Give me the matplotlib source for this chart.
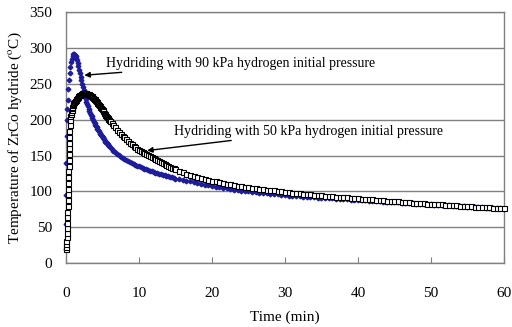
"""ZrCo hydride temperature during hydriding at two initial pressures."""

import matplotlib
matplotlib.use("Agg")
import matplotlib.pyplot as plt
import numpy as np

plt.rcParams["font.family"] = ["Liberation Serif", "DejaVu Serif"]
plt.rcParams["mathtext.fontset"] = "stix"

# --- 90 kPa run (readings) ---
t90_rise = [0.0, 0.02, 0.04, 0.06, 0.08, 0.1, 0.15, 0.2, 0.3, 0.4,
            0.5, 0.6, 0.7, 0.8, 0.9]
T90_rise = [20, 55, 95, 140, 178, 200, 215, 228, 243, 255,
            265, 273, 280, 285, 289]
# every 0.1 min from 1.0 to 6.0
T90_fast = [
    291, 291, 290, 288.5, 286, 283, 279.5, 275, 270, 265,
    260, 255, 250, 245.5, 241, 236.5, 232.5, 228.5, 225, 221.5,
    218.5, 215.5, 212.5, 210, 207, 204.5, 202, 199.5, 197.5, 195.5,
    193, 191, 189.5, 187.5, 186, 184, 182, 180.5, 179, 177,
    175.5, 174, 172.5, 171, 169.5, 168.3, 167, 165.8, 164.6, 163.4,
    162.2,
]
# every 0.25 min from 6.25 to 15
T90_mid = [
    159.5, 157, 154.7, 152.5, 150.4, 148.5, 146.7, 145, 143.5, 142,
    140.7, 139.5, 138.2, 137, 136, 135, 134, 133, 132, 131,
    130, 129, 128, 127, 126.2, 125.5, 124.7, 124, 123.2, 122.5,
    121.7, 121, 120.2, 119.5, 118.7, 118,
]
# every 0.5 min from 15.5 to 60
T90_tail = [
    117, 116, 115, 114, 113, 111.5, 110.5, 109.5, 108.5, 107.5,
    106.8, 106, 105.2, 104.5, 103.5, 102.5, 101.8, 101, 100.5, 100,
    99.4, 98.8, 98.3, 97.8, 97.3, 96.8, 96.3, 95.8, 95.3, 94.9,
    94.4, 94, 93.6, 93.2, 92.8, 92.4, 92.1, 91.8, 91.5, 91.2,
    90.9, 90.6, 90.3, 90.0, 89.7, 89.4, 89.1, 88.8, 88.5, 88.2,
    87.9, 87.6, 87.3, 87.0, 86.6, 86.3, 86.0, 85.7, 85.3, 85.0,
    84.7, 84.4, 84.1, 83.8, 83.5, 83.2, 82.9, 82.6, 82.3, 82.0,
    81.7, 81.4, 81.1, 80.8, 80.5, 80.2, 79.9, 79.6, 79.3, 79.0,
    78.7, 78.4, 78.1, 77.8, 77.5, 77.2, 76.9, 76.6, 76.3, 76.0,
]

# --- 50 kPa run ---
t50_rise = [0.0, 0.02, 0.04, 0.06, 0.08, 0.1, 0.12, 0.14, 0.16, 0.18,
            0.2, 0.22, 0.24, 0.26, 0.28, 0.3, 0.32, 0.34, 0.36, 0.38,
            0.4, 0.42, 0.44, 0.46, 0.5, 0.55, 0.6, 0.65, 0.7, 0.75,
            0.8, 0.85, 0.9, 0.95, 1.0]
T50_rise = [20, 23, 27, 31, 36, 42, 49, 56, 64, 72,
            80, 88, 96, 104, 112, 120, 128, 136, 144, 152,
            160, 168, 176, 184, 192, 199, 205, 208, 211, 213.5,
            216, 218, 220, 221.5, 223]
# every 0.1 min from 1.1 to 6.0
T50_fast = [
    224.5, 226, 227.5, 229, 230.5, 232, 233, 234, 235, 236,
    236.5, 237, 237.3, 237.5, 237.5, 237.4, 237.2, 236.8, 236.4, 236,
    235.5, 235, 234.3, 233.5, 232.6, 231.6, 230.5, 229.4, 228.2, 227,
    225.7, 224.4, 223, 221.6, 220.2, 218.8, 217.4, 216, 214.5, 213,
    211.5, 210, 208.5, 207, 205.5, 204, 202.6, 201.2, 199.8, 198.5,
]
# every 0.25 min from 6.25 to 15
T50_mid = [
    195.3, 192.2, 189.2, 186.3, 183.4, 180.6, 177.9, 175.3, 172.8, 170.4,
    168.1, 165.9, 163.8, 161.8, 159.9, 158, 156.4, 154.8, 153.3, 151.8,
    150.3, 148.8, 147.4, 146, 144.6, 143.2, 141.8, 140.5, 139.2, 138,
    136.9, 135.8, 134.6, 133.4, 132.2, 131,
]
# every 0.5 min from 15.5 to 60
T50_tail = [
    129, 127, 125, 123.5, 122, 120.5, 119, 117.5, 116, 115,
    114, 113, 112, 111, 110, 109, 108.3, 107.5, 106.8, 106,
    105.3, 104.6, 104, 103.3, 102.7, 102, 101.4, 100.8, 100.2, 99.6,
    99, 98.4, 97.8, 97.3, 96.8, 96.3, 95.9, 95.4, 95.0, 94.6,
    94.1, 93.7, 93.3, 92.9, 92.5, 92.1, 91.7, 91.3, 90.9, 90.5,
    90.1, 89.7, 89.3, 88.9, 88.5, 88.1, 87.7, 87.3, 86.9, 86.5,
    86.1, 85.7, 85.4, 85.0, 84.6, 84.3, 83.9, 83.6, 83.2, 82.9,
    82.5, 82.2, 81.9, 81.5, 81.2, 80.9, 80.6, 80.2, 79.9, 79.6,
    79.3, 79.0, 78.7, 78.4, 78.1, 77.8, 77.5, 77.2, 76.9, 76.6,
]


def _times(start, step, vals):
    return start + step * np.arange(len(vals))


t90 = np.concatenate([t90_rise, _times(1.0, 0.1, T90_fast),
                      _times(6.25, 0.25, T90_mid), _times(15.5, 0.5, T90_tail)])
T90 = np.concatenate([T90_rise, T90_fast, T90_mid, T90_tail])
t50 = np.concatenate([t50_rise, _times(1.1, 0.1, T50_fast),
                      _times(6.25, 0.25, T50_mid), _times(15.5, 0.5, T50_tail)])
T50 = np.concatenate([T50_rise, T50_fast, T50_mid, T50_tail])

fig = plt.figure(figsize=(5.12, 3.27), dpi=100)
ax = fig.add_axes([0.129, 0.195, 0.855, 0.768])

grey = "#808080"
ax.set_xlim(0, 60)
ax.set_ylim(0, 350)
ax.set_yticks(range(0, 351, 50))
ax.set_xticks(range(0, 61, 10))
ax.grid(axis="y", color=grey, lw=1.0)
ax.set_axisbelow(True)
for s in ax.spines.values():
    s.set_color(grey)
    s.set_linewidth(1.0)

ax.tick_params(axis="x", direction="in", length=4, color=grey, pad=17,
               labelsize=11)
ax.tick_params(axis="y", length=0, pad=10, labelsize=11)

ax.plot(t90, T90, ls="none", marker="D", ms=2.4, color="#1c1c9c",
        mec="#1c1c9c", clip_on=False, zorder=3)
ax.plot(t50, T50, ls="none", marker="s", ms=3.6, mfc="white", mec="black",
        mew=0.8, clip_on=False, zorder=4)

arrow = dict(arrowstyle="-|>", color="black", lw=1.0, mutation_scale=8,
             shrinkA=0, shrinkB=0)
ax.annotate("Hydriding with 90 kPa hydrogen initial pressure",
            xy=(2.5, 262), xytext=(5.5, 279), fontsize=10,
            va="center", ha="left", arrowprops=arrow)
ax.annotate("Hydriding with 50 kPa hydrogen initial pressure",
            xy=(11.1, 157), xytext=(14.8, 184), fontsize=10,
            va="center", ha="left", arrowprops=arrow)

ax.set_xlabel("Time (min)", fontsize=11, labelpad=8)
ax.set_ylabel(r"Temperature of ZrCo hydride ($^{\mathrm{o}}$C)", fontsize=11,
              labelpad=4)

fig.savefig("out.png", dpi=100)
